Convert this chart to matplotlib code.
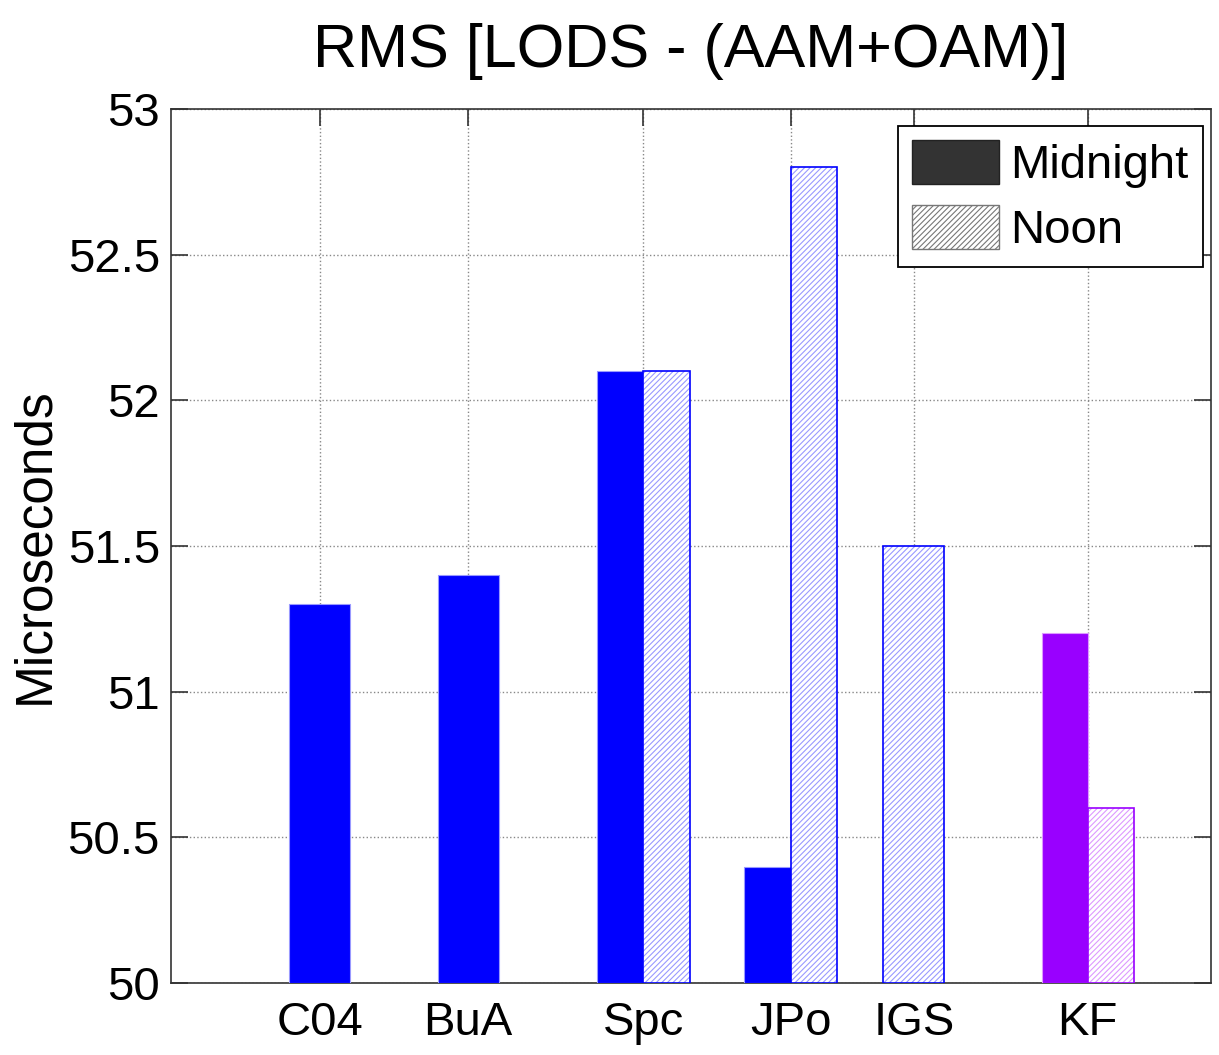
import numpy as np
import matplotlib.pyplot as plt
from matplotlib.patches import Patch

plt.rcParams['font.family'] = ['Liberation Sans', 'DejaVu Sans']
plt.rcParams['hatch.linewidth'] = 0.8

# series: RMS of LOD residuals (microseconds), NaN = not available
centers = ['C04', 'BuA', 'Spc', 'JPo', 'IGS', 'KF']
xpos = np.array([1.0, 2.0, 3.18, 4.17, 5.0, 6.17])
midnight = np.array([51.3, 51.4, 52.1, 50.4, np.nan, 51.2])
noon = np.array([np.nan, np.nan, 52.1, 52.8, 51.5, 50.6])
colors = ['#0000ff', '#0000ff', '#0000ff', '#0000ff', '#0000ff', '#9900ff']
light = ['#9999ff', '#9999ff', '#9999ff', '#9999ff', '#9999ff', '#dd99ff']

base = 50.0
w_single = 0.41
w_pair = 0.31


def draw_noon(ax, x, val, w, col, lcol):
    # hatched fill first, then a solid outline on top
    ax.bar(x, val - base, w, bottom=base, facecolor='white',
           edgecolor=lcol, hatch='//////', linewidth=0, zorder=3)
    ax.bar(x, val - base, w, bottom=base, facecolor='none',
           edgecolor=col, linewidth=1.2, zorder=4)


fig = plt.figure(figsize=(12.19, 10.55), dpi=100)
ax = fig.add_axes([0.1403, 0.0682, 0.8531, 0.8285])

for i in range(len(centers)):
    m, n = midnight[i], noon[i]
    if not np.isnan(m) and not np.isnan(n):
        ax.bar(xpos[i] - w_pair / 2, m - base, w_pair, bottom=base,
               color=colors[i], edgecolor=light[i], linewidth=0.8, zorder=3)
        draw_noon(ax, xpos[i] + w_pair / 2, n, w_pair, colors[i], light[i])
    elif not np.isnan(m):
        ax.bar(xpos[i], m - base, w_single, bottom=base,
               color=colors[i], edgecolor=light[i], linewidth=0.8, zorder=3)
    else:
        draw_noon(ax, xpos[i], n, w_single, colors[i], light[i])

ax.set_xlim(0, 7)
ax.set_ylim(50, 53)
ax.set_xticks(xpos)
ax.set_xticklabels(centers)
ax.set_yticks(np.arange(50, 53.01, 0.5))
ax.set_yticklabels(['50', '50.5', '51', '51.5', '52', '52.5', '53'])
ax.tick_params(axis='both', direction='in', length=12, width=1.2,
               top=True, right=True, labelsize=34, colors='#333333',
               labelcolor='black')
ax.tick_params(axis='y', pad=8)
ax.tick_params(axis='x', pad=13)
ax.grid(True, linestyle=':', color='#888888', linewidth=1.0, zorder=0)
ax.set_axisbelow(True)
for s in ax.spines.values():
    s.set_linewidth(1.2)
    s.set_color('#333333')

ax.set_ylabel('Microseconds', fontsize=37, labelpad=6)
ax.set_title('RMS [LODS - (AAM+OAM)]', fontsize=44, pad=30)

handles = [Patch(facecolor='#333333', edgecolor='#222222', label='Midnight'),
           Patch(facecolor='white', edgecolor='#777777', hatch='//////',
                 label='Noon')]
leg = ax.legend(handles=handles, loc='upper right', fontsize=34,
                fancybox=False, framealpha=1, edgecolor='black',
                handlelength=1.84, handleheight=1.05, borderpad=0.3,
                handletextpad=0.25, labelspacing=0.35, borderaxespad=0,
                bbox_to_anchor=(0.9923, 0.9805))
leg.get_frame().set_linewidth(1.3)

plt.savefig('out.png', dpi=100)
